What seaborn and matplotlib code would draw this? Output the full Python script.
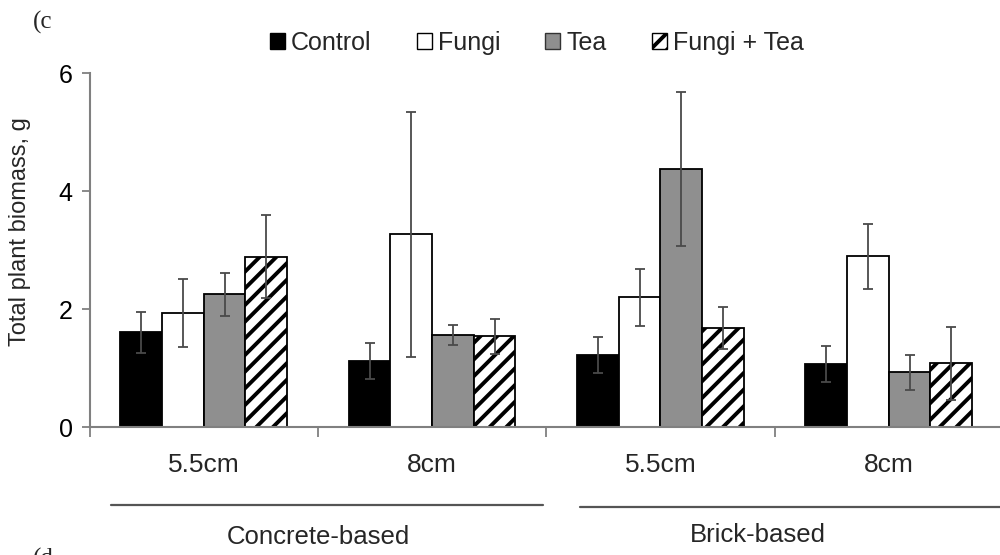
import matplotlib
matplotlib.use("Agg")
import matplotlib.pyplot as plt
from matplotlib.patches import Patch
import numpy as np
import pandas as pd
import seaborn as sns

# Plant biomass means and error half-widths (g)
treatments = ["Control", "Fungi", "Tea", "Fungi + Tea"]
groups = ["Concrete 5.5cm", "Concrete 8cm", "Brick 5.5cm", "Brick 8cm"]
depth_labels = ["5.5cm", "8cm", "5.5cm", "8cm"]
substrates = ["Concrete-based", "Brick-based"]

control_mean = [1.61, 1.12, 1.22, 1.07]
fungi_mean = [1.93, 3.27, 2.20, 2.90]
tea_mean = [2.25, 1.56, 4.38, 0.93]
fungi_tea_mean = [2.89, 1.54, 1.68, 1.08]

control_err = [0.35, 0.31, 0.30, 0.30]
fungi_err = [0.58, 2.08, 0.49, 0.55]
tea_err = [0.37, 0.17, 1.30, 0.30]
fungi_tea_err = [0.70, 0.30, 0.35, 0.62]

means = [control_mean, fungi_mean, tea_mean, fungi_tea_mean]
errs = [control_err, fungi_err, tea_err, fungi_tea_err]

rows = []
for t, m_list, e_list in zip(treatments, means, errs):
    for g, m, e in zip(groups, m_list, e_list):
        rows.append({"group": g, "treatment": t, "biomass": m, "err": e})
df = pd.DataFrame(rows)

sns.set_theme(style="white")
plt.rcParams["font.family"] = ["Liberation Sans", "DejaVu Sans"]
plt.rcParams["hatch.linewidth"] = 2.8
plt.rcParams["hatch.color"] = "black"

face = {"Control": "#000000", "Fungi": "#ffffff", "Tea": "#8f8f8f", "Fungi + Tea": "#ffffff"}
axis_grey = "#808080"

fig = plt.figure(figsize=(10, 5.55), dpi=100)
ax = fig.add_axes([0.0895, 0.2306, 0.9135, 0.637])

sns.barplot(data=df, x="group", y="biomass", hue="treatment", order=groups,
            hue_order=treatments, palette=face, edgecolor="black", linewidth=1.3,
            width=0.73, gap=0, errorbar=None, legend=False, ax=ax, saturation=1)

# Style bars per treatment and add error bars
bar_patches = [p for p in ax.patches if p.get_height() > 0]
for i, t in enumerate(treatments):
    sub = df[df.treatment == t]
    ps = bar_patches[i * len(groups):(i + 1) * len(groups)]
    xs = [p.get_x() + p.get_width() / 2 for p in ps]
    for p in ps:
        p.set_facecolor(face[t])
        p.set_edgecolor("black")
        if t == "Fungi + Tea":
            p.set_hatch("//")
    ax.errorbar(xs, sub.biomass.values, yerr=sub.err.values, fmt="none",
                ecolor="#4a4a4a", elinewidth=1.3, capsize=3.5, capthick=1.3, zorder=5)

ax.set_ylim(0, 6)
ax.set_yticks([0, 2, 4, 6])
ax.set_xlim(-0.5, 3.5)
ax.set_xticks([-0.5, 0.5, 1.5, 2.5])
ax.set_xticklabels([])
ax.set_xlabel("")
ax.set_ylabel("Total plant biomass, g", fontsize=17)
ax.yaxis.set_label_coords(-0.064, 0.554)
ax.tick_params(axis="y", which="major", direction="out", length=6, width=1.3,
               color=axis_grey, labelsize=18, pad=6, left=True, labelcolor="black")
ax.tick_params(axis="x", which="major", direction="out", length=7, width=1.3,
               color=axis_grey, bottom=True)
for side in ["top", "right"]:
    ax.spines[side].set_visible(False)
for side in ["left", "bottom"]:
    ax.spines[side].set_color(axis_grey)
    ax.spines[side].set_linewidth(1.5)
ax.grid(False)

# Depth labels under each cluster
for k, lab in enumerate(depth_labels):
    ax.annotate(lab, xy=(k, 0), xycoords=("data", "axes fraction"),
                xytext=(0, -38), textcoords="offset pixels",
                ha="center", va="center", fontsize=19)

# Substrate brackets and labels
fig.add_artist(plt.Line2D([0.111, 0.543], [1 - 505 / 555] * 2, color="#555555", lw=1.6))
fig.add_artist(plt.Line2D([0.580, 1.0], [1 - 507 / 555] * 2, color="#555555", lw=1.6))
fig.text(0.318, 1 - 537 / 555, substrates[0], ha="center", va="center", fontsize=18.5)
fig.text(0.758, 1 - 535 / 555, substrates[1], ha="center", va="center", fontsize=18.5)

# Legend with small square swatches
handles = [Patch(facecolor=face[t], edgecolor="black" if t != "Tea" else "#333333",
                 hatch="//" if t == "Fungi + Tea" else None, linewidth=1.0)
           for t in treatments]
leg = fig.legend(handles, treatments, loc="center", bbox_to_anchor=(0.537, 1 - 43 / 555),
                 ncol=4, frameon=False, fontsize=18, handlelength=0.6, handleheight=0.6,
                 handletextpad=0.25, columnspacing=1.8, borderaxespad=0, borderpad=0)

# Panel letters
fig.text(0.033, 1 - 22 / 555, "(c", ha="left", va="center", fontsize=18,
         family=["Liberation Serif", "DejaVu Serif"])
fig.text(0.033, -0.008, "(d", ha="left", va="center", fontsize=18,
         family=["Liberation Serif", "DejaVu Serif"])

fig.savefig("out.png", dpi=100)
